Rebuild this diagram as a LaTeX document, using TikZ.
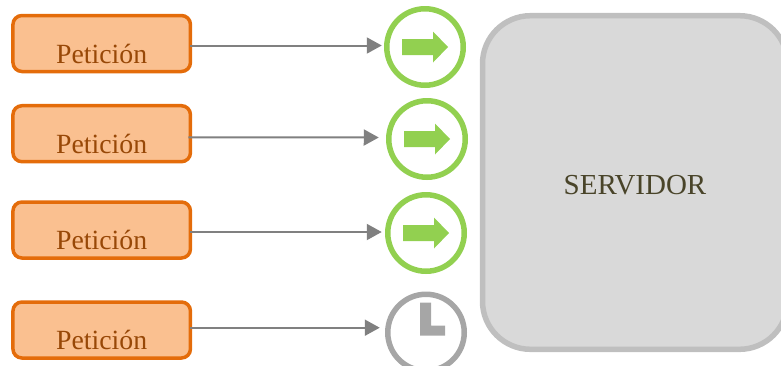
\documentclass[tikz,border=0pt]{standalone}
\usepackage{fontspec}
\setmainfont{Liberation Serif}
\usetikzlibrary{arrows.meta}
\definecolor{orangeline}{HTML}{E46C0A}
\definecolor{orangefill}{HTML}{FAC090}
\definecolor{orangetext}{HTML}{984807}
\definecolor{greenmark}{HTML}{92D050}
\definecolor{graymark}{HTML}{A6A6A6}
\definecolor{servfill}{HTML}{D9D9D9}
\definecolor{servline}{HTML}{BFBFBF}
\definecolor{servtext}{HTML}{494429}
\definecolor{connline}{HTML}{808080}
\tikzset{
  reqbox/.style={draw=orangeline,fill=orangefill,line width=3.5pt,rounded corners=9pt,
    inner sep=0pt,outer sep=0pt,minimum width=177.5pt,text height=47.5pt,text depth=8.5pt,
    text=orangetext,font=\fontsize{27.8}{30}\selectfont},
  okring/.style={circle,draw=greenmark,line width=5.5pt,minimum size=76.5pt,inner sep=0pt,outer sep=0pt},
  waitring/.style={circle,draw=graymark,line width=5.5pt,minimum size=76.5pt,inner sep=0pt,outer sep=0pt},
  serverbox/.style={draw=servline,fill=servfill,line width=5.5pt,rounded corners=48pt,
    inner sep=0pt,outer sep=0pt,minimum width=305pt,text height=178.3pt,text depth=155.3pt,
    text=servtext,font=\fontsize{29}{31}\selectfont},
  conn/.style={draw=connline,line width=2pt,-{Triangle[length=15pt,width=16pt]}},
  okarrow/.pic={\fill[greenmark] (-23,-8)--(8,-8)--(8,-15.5)--(23,0)--(8,15.5)--(8,8)--(-23,8)--cycle;},
  clockhand/.pic={\fill[graymark] (-6,-29.8)--(5,-29.8)--(5,-7)--(19,-7)--(19,3.2)--(-6,3.2)--cycle;}
}
\begin{document}
\begin{tikzpicture}[x=1pt,y=-1pt]
\useasboundingbox (0,0) rectangle (781,365);
\clip (0,0) rectangle (781,365);
\node[reqbox] (p1) at (101.7,43.5) {Petición};
\node[reqbox] (p2) at (101.7,133.7) {Petición};
\node[reqbox] (p3) at (101.7,230) {Petición};
\node[reqbox] (p4) at (101.7,330) {Petición};
\node[okring] (c1) at (425,47) {};
\node[okring] (c2) at (427,139) {};
\node[okring] (c3) at (426,233) {};
\node[waitring] (c4) at (426,332.5) {};
\pic at (c1) {okarrow};
\pic at (c2) {okarrow};
\pic at (c3) {okarrow};
\pic at (c4) {clockhand};
\node[serverbox] (s) at (635,182.5) {SERVIDOR};
\draw[conn] ([yshift=-2pt]p1.east) -- ([xshift=-5pt,yshift=1.5pt]c1.west);
\draw[conn] ([yshift=-3.6pt,xshift=-2pt]p2.east) -- ([xshift=-10pt,yshift=1.5pt]c2.west);
\draw[conn] ([yshift=-2pt]p3.east) -- ([xshift=-6pt,yshift=1pt]c3.west);
\draw[conn] ([yshift=2.3pt]p4.east) -- ([xshift=-8pt,yshift=4.8pt]c4.west);
\end{tikzpicture}
\end{document}
